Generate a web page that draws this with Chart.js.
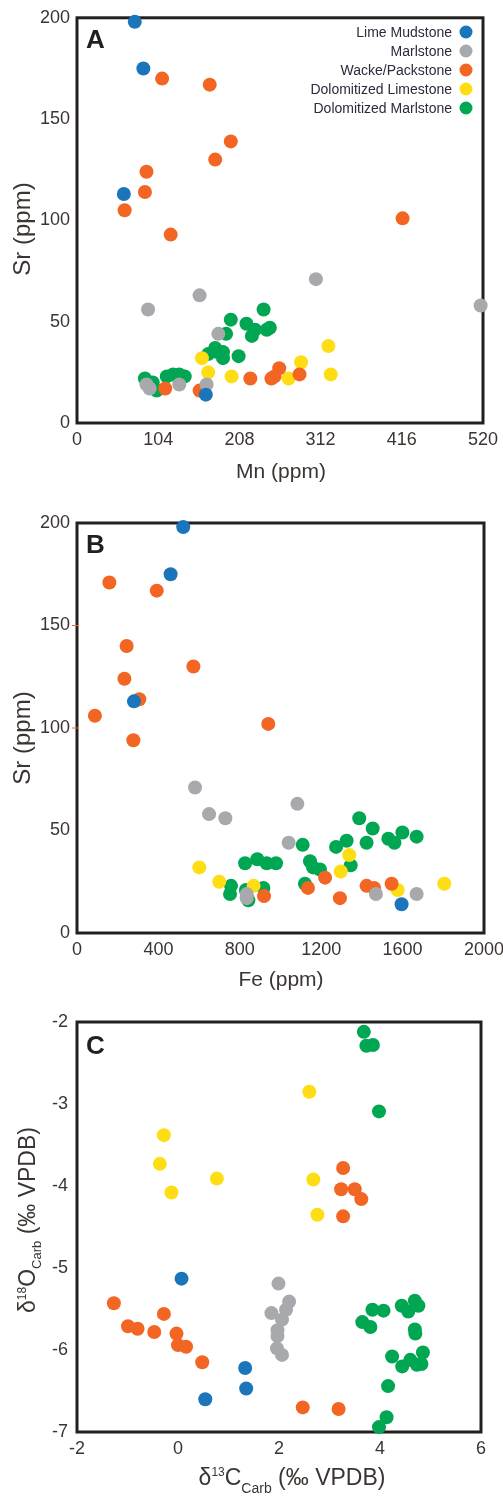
<!DOCTYPE html>
<html>
<head>
<meta charset="utf-8">
<script src="https://cdn.jsdelivr.net/npm/chart.js@4.4.1/dist/chart.umd.min.js"></script>
<style>
  html, body { margin: 0; padding: 0; background: #fff; overflow: hidden; }
  #wrap { position: relative; width: 503px; height: 1496px; overflow: hidden; }
  canvas { position: absolute; left: 0; }
</style>
</head>
<body>
<div id="wrap">
  <canvas id="chartA" width="520" height="500" style="top:0"></canvas>
  <canvas id="chartB" width="520" height="500" style="top:500px"></canvas>
  <canvas id="chartC" width="520" height="496" style="top:1000px"></canvas>
</div>
<script>
// Lithology categories (legend order)
const lithologies = ['Lime Mudstone', 'Marlstone', 'Wacke/Packstone', 'Dolomitized Limestone', 'Dolomitized Marlstone'];
const lithColors = ['#1b75bb', '#a7a9ac', '#f26522', '#ffdd15', '#00a651'];

// Panel A: Mn (ppm) vs Sr (ppm)
const mnSrLime = [[74, 198], [85, 175], [60, 113], [165, 14]];
const mnSrMarl = [[306, 71], [157, 63], [91, 56], [517, 58], [181, 44], [166, 19], [131, 19], [89, 19], [93, 17]];
const mnSrWacke = [[109, 170], [170, 167], [197, 139], [177, 130], [89, 124], [87, 114], [61, 105], [120, 93], [417, 101],
  [222, 22], [249, 22], [253, 23], [259, 27], [285, 24], [157, 16], [113, 17]];
const mnSrDolLime = [[160, 32], [322, 38], [287, 30], [325, 24], [168, 25], [198, 23], [271, 22]];
const mnSrDolMarl = [[239, 56], [197, 51], [217, 49], [247, 47], [243, 46], [228, 46], [224, 43], [191, 44], [168, 34],
  [177, 37], [187, 35], [187, 32], [207, 33], [180, 35], [87, 22], [97, 20], [102, 16], [115, 23], [123, 24], [131, 24], [138, 23]];

// Panel B: Fe (ppm) vs Sr (ppm)
const feSrLime = [[522, 198], [460, 175], [280, 113], [1595, 14]];
const feSrMarl = [[580, 71], [649, 58], [729, 56], [1083, 63], [1040, 44], [834, 19], [834, 17], [1469, 19], [1669, 19]];
const feSrWacke = [[159, 171], [392, 167], [244, 140], [572, 130], [233, 124], [306, 114], [88, 106], [940, 102], [277, 94],
  [1219, 27], [1135, 22], [919, 18], [1292, 17], [1423, 23], [1460, 22], [1546, 24]];
const feSrDolLime = [[601, 32], [699, 25], [868, 23], [1338, 38], [1296, 30], [1576, 21], [1805, 24]];
const feSrDolMarl = [[1387, 56], [1453, 51], [1423, 44], [1530, 46], [1560, 44], [1599, 49], [1669, 47], [1325, 45], [1273, 42],
  [1109, 43], [1345, 33], [1145, 35], [1160, 32], [1194, 31], [1120, 24], [826, 34], [886, 36], [932, 34], [978, 34],
  [757, 23], [752, 19], [830, 21], [916, 22], [842, 16]];

// Panel C: d13C carb vs d18O carb (permil VPDB)
const isoLime = [[0.07, -5.13], [1.33, -6.22], [1.35, -6.47], [0.54, -6.60]];
const isoMarl = [[1.99, -5.19], [2.20, -5.41], [2.14, -5.51], [1.85, -5.55], [2.06, -5.63], [1.97, -5.76], [1.97, -5.83],
  [1.96, -5.98], [2.06, -6.06]];
const isoWacke = [[-1.27, -5.43], [-0.28, -5.56], [-0.99, -5.71], [-0.80, -5.74], [-0.47, -5.78], [-0.03, -5.80], [0.00, -5.94],
  [0.16, -5.96], [0.48, -6.15], [2.47, -6.70], [3.18, -6.72], [3.27, -3.78], [3.23, -4.04], [3.50, -4.04], [3.63, -4.16], [3.27, -4.37]];
const isoDolLime = [[2.60, -2.85], [-0.28, -3.38], [-0.36, -3.73], [-0.13, -4.08], [0.77, -3.91], [2.68, -3.92], [2.76, -4.35]];
const isoDolMarl = [[3.68, -2.12], [3.73, -2.29], [3.86, -2.28], [3.98, -3.09], [3.65, -5.66], [3.81, -5.72], [3.85, -5.51],
  [4.07, -5.52], [4.43, -5.46], [4.56, -5.53], [4.69, -5.40], [4.76, -5.46], [4.69, -5.75], [4.70, -5.80], [4.24, -6.08],
  [4.44, -6.20], [4.60, -6.12], [4.73, -6.18], [4.85, -6.03], [4.82, -6.17], [4.16, -6.44], [4.13, -6.82], [3.98, -6.94]];

const FONT = '"Liberation Sans", Arial, sans-serif';
const TEXT = '#3a3532';

/**
 * Draw a run of text pieces (for super/subscripts) centred on cx,
 * baseline at cy. rot rotates it to read bottom-to-top.
 */
function drawRich(ctx, parts, cx, cy, rot) {
  ctx.save();
  ctx.translate(cx, cy);
  if (rot) ctx.rotate(-Math.PI / 2);
  let w = 0;
  parts.forEach(p => { ctx.font = `${p.size}px ${FONT}`; w += ctx.measureText(p.t).width; });
  let x = -w / 2;
  ctx.fillStyle = TEXT;
  ctx.textAlign = 'left';
  ctx.textBaseline = 'alphabetic';
  parts.forEach(p => {
    ctx.font = `${p.size}px ${FONT}`;
    ctx.fillText(p.t, x, p.dy || 0);
    x += ctx.measureText(p.t).width;
  });
  ctx.restore();
}

// Frame, panel letter, axis titles and (panel A) legend
const panelDecor = {
  id: 'panelDecor',
  beforeDatasetsDraw(chart, args, opts) {
    const { ctx, chartArea: a } = chart;
    ctx.save();
    ctx.lineWidth = 3;
    ctx.strokeStyle = '#231f20';
    ctx.strokeRect(a.left, a.top, a.right - a.left, a.bottom - a.top);

    ctx.font = `bold 26px ${FONT}`;
    ctx.fillStyle = '#231f20';
    ctx.textAlign = 'left';
    ctx.fillText(opts.letter, a.left + 9, a.top + opts.letterDy);

    // stray orange tick marks seen on panel B
    (opts.orangeTicks || []).forEach(v => {
      const y = chart.scales.y.getPixelForValue(v);
      ctx.strokeStyle = '#f26522';
      ctx.lineWidth = 1;
      ctx.beginPath();
      ctx.moveTo(a.left - 5, y);
      ctx.lineTo(a.left + 1, y);
      ctx.stroke();
    });
    ctx.restore();

    drawRich(ctx, opts.xTitle, opts.xTitlePos[0], opts.xTitlePos[1], false);
    drawRich(ctx, opts.yTitle, opts.yTitlePos[0], opts.yTitlePos[1], true);

    if (opts.legend) {
      ctx.save();
      chart.data.datasets.forEach((ds, i) => {
        const cy = 32 + i * 19;
        ctx.font = `14px ${FONT}`;
        ctx.fillStyle = '#2d2a3e';
        ctx.textAlign = 'right';
        ctx.textBaseline = 'middle';
        ctx.fillText(ds.label, 452, cy + 1);
        ctx.beginPath();
        ctx.arc(466, cy, 6.5, 0, Math.PI * 2);
        ctx.fillStyle = ds.backgroundColor;
        ctx.fill();
      });
      ctx.restore();
    }
  }
};

function toPoints(pairs) {
  return pairs.map(p => ({ x: p[0], y: p[1] }));
}

function makePanel(id, seriesList, p) {
  const datasets = seriesList.map((s, i) => ({
    label: lithologies[i],
    data: toPoints(s),
    backgroundColor: lithColors[i],
    borderWidth: 0,
    pointRadius: 7,
    pointHoverRadius: 7,
    clip: false
  }));
  const tickFont = { family: FONT, size: 18 };
  return new Chart(document.getElementById(id), {
    type: 'scatter',
    data: { datasets },
    options: {
      responsive: false,
      animation: false,
      events: [],
      layout: { padding: { top: p.top, right: p.right, bottom: 0, left: 0 } },
      plugins: {
        legend: { display: false },
        tooltip: { enabled: false },
        panelDecor: p.decor
      },
      scales: {
        x: {
          type: 'linear', min: p.xMin, max: p.xMax,
          grid: { display: false, drawTicks: false },
          border: { display: false },
          ticks: { stepSize: p.xStep, color: TEXT, font: tickFont, padding: 6, maxRotation: 0, autoSkip: false,
                   callback: v => String(v) },
          afterFit: s => { s.height = p.xHeight; }
        },
        y: {
          type: 'linear', min: p.yMin, max: p.yMax,
          grid: { display: false, drawTicks: false },
          border: { display: false },
          ticks: { stepSize: p.yStep, color: TEXT, font: tickFont, padding: p.yPad, autoSkip: false,
                   callback: v => String(v) },
          afterFit: s => { s.width = 77; }
        }
      }
    },
    plugins: [panelDecor]
  });
}

const pptm = [{ t: 'Sr (ppm)', size: 24 }];

makePanel('chartA', [mnSrLime, mnSrMarl, mnSrWacke, mnSrDolLime, mnSrDolMarl], {
  top: 14, right: 37, xHeight: 77,
  xMin: 0, xMax: 520, xStep: 104, yMin: 0, yMax: 200, yStep: 50, yPad: 7,
  decor: {
    letter: 'A', letterDy: 30, legend: true,
    xTitle: [{ t: 'Mn (ppm)', size: 21 }], xTitlePos: [281, 478],
    yTitle: pptm, yTitlePos: [30, 229]
  }
});

makePanel('chartB', [feSrLime, feSrMarl, feSrWacke, feSrDolLime, feSrDolMarl], {
  top: 23, right: 36, xHeight: 67,
  xMin: 0, xMax: 2000, xStep: 400, yMin: 0, yMax: 200, yStep: 50, yPad: 7,
  decor: {
    letter: 'B', letterDy: 30, orangeTicks: [150, 100],
    xTitle: [{ t: 'Fe (ppm)', size: 21 }], xTitlePos: [281, 486],
    yTitle: pptm, yTitlePos: [30, 238]
  }
});

makePanel('chartC', [isoLime, isoMarl, isoWacke, isoDolLime, isoDolMarl], {
  top: 22, right: 39, xHeight: 64,
  xMin: -2, xMax: 6, xStep: 2, yMin: -7, yMax: -2, yStep: 1, yPad: 9,
  decor: {
    letter: 'C', letterDy: 32,
    xTitle: [{ t: 'δ', size: 23 }, { t: '13', size: 12, dy: -9 }, { t: 'C', size: 23 }, { t: 'Carb', size: 14, dy: 8 },
             { t: ' (‰ VPDB)', size: 23 }],
    xTitlePos: [292, 485],
    yTitle: [{ t: 'δ', size: 23 }, { t: '18', size: 12, dy: -9 }, { t: 'O', size: 23 }, { t: 'Carb', size: 13, dy: 6 },
             { t: ' (‰ VPDB)', size: 23 }],
    yTitlePos: [35, 220]
  }
});
</script>
</body>
</html>
